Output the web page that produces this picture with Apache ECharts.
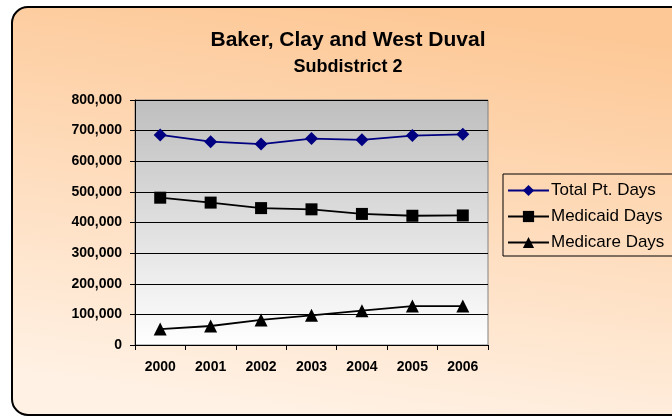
<!DOCTYPE html>
<html>
<head>
<meta charset="utf-8">
<script src="https://cdn.jsdelivr.net/npm/echarts@6/dist/echarts.min.js"></script>
<style>
  html, body { margin: 0; padding: 0; background: #fff; }
  #chart { width: 672px; height: 417px; }
</style>
</head>
<body>
<div id="chart"></div>
<script>
const years = ['2000', '2001', '2002', '2003', '2004', '2005', '2006']
const totalDays = [686000, 664000, 656000, 674000, 670000, 684000, 688000]
const medicaidDays = [481000, 465000, 447000, 443000, 428000, 422000, 423000]
const medicareDays = [52000, 62000, 82000, 97000, 112000, 127000, 127000]
const seriesNames = ['Total Pt. Days', 'Medicaid Days', 'Medicare Days']

const font = '"Liberation Sans", Arial, sans-serif'

const chart = echarts.init(document.getElementById('chart'))

chart.setOption({
  animation: false,
  graphic: [{
    type: 'rect',
    z: -10,
    shape: { x: 12, y: 7, width: 700, height: 408, r: 16 },
    style: {
      fill: new echarts.graphic.LinearGradient(0.54, 0, 0.46, 1, [
        { offset: 0, color: '#fdc896' },
        { offset: 1, color: '#fff1e4' },
      ]),
      stroke: '#000',
      lineWidth: 2,
    },
  }],
  title: {
    text: 'Baker, Clay and West Duval',
    subtext: 'Subdistrict 2',
    left: 343,
    top: 25,
    textAlign: 'center',
    itemGap: 7,
    textStyle: { fontFamily: font, fontSize: 21, fontWeight: 'bold', color: '#000' },
    subtextStyle: { fontFamily: font, fontSize: 18, fontWeight: 'bold', color: '#000' },
  },
  legend: {
    orient: 'vertical',
    left: 503,
    top: 174,
    padding: [8, 12, 5, 4],
    itemGap: 9,
    itemWidth: 41,
    itemHeight: 14,
    borderColor: '#000',
    borderWidth: 1,
    textStyle: { fontFamily: font, fontSize: 17, color: '#000', padding: [0, 0, 0, -3] },
    data: seriesNames,
  },
  grid: {
    left: 135,
    right: 184,
    top: 100,
    bottom: 72,
    show: true,
    borderColor: '#808080',
    borderWidth: 1,
    backgroundColor: new echarts.graphic.LinearGradient(0, 0, 0, 1, [
      { offset: 0, color: '#bebebe' },
      { offset: 1, color: '#ffffff' },
    ]),
  },
  xAxis: {
    type: 'category',
    data: years,
    boundaryGap: true,
    axisLine: { lineStyle: { color: '#000', width: 1 } },
    axisTick: { show: true, length: 5, lineStyle: { color: '#000' } },
    axisLabel: { fontFamily: font, fontSize: 14, fontWeight: 'bold', color: '#000', margin: 15 },
  },
  yAxis: {
    type: 'value',
    min: 0,
    max: 800000,
    interval: 100000,
    axisLine: { show: true, lineStyle: { color: '#000', width: 1 } },
    axisTick: { show: true, length: 5, lineStyle: { color: '#000' } },
    splitLine: { lineStyle: { color: '#000', width: 1 } },
    axisLabel: {
      fontFamily: font, fontSize: 14, fontWeight: 'bold', color: '#000', margin: 13,
      formatter: v => v.toLocaleString('en-US'),
    },
  },
  series: [
    {
      name: seriesNames[0],
      type: 'line',
      data: totalDays,
      symbol: 'diamond',
      symbolSize: 13,
      itemStyle: { color: '#000080' },
      lineStyle: { color: '#000080', width: 1.8 },
    },
    {
      name: seriesNames[1],
      type: 'line',
      data: medicaidDays,
      symbol: 'rect',
      symbolSize: 12,
      itemStyle: { color: '#000' },
      lineStyle: { color: '#000', width: 1.8 },
    },
    {
      name: seriesNames[2],
      type: 'line',
      data: medicareDays,
      symbol: 'triangle',
      symbolSize: 13,
      itemStyle: { color: '#000' },
      lineStyle: { color: '#000', width: 1.8 },
    },
  ],
})
</script>
</body>
</html>
